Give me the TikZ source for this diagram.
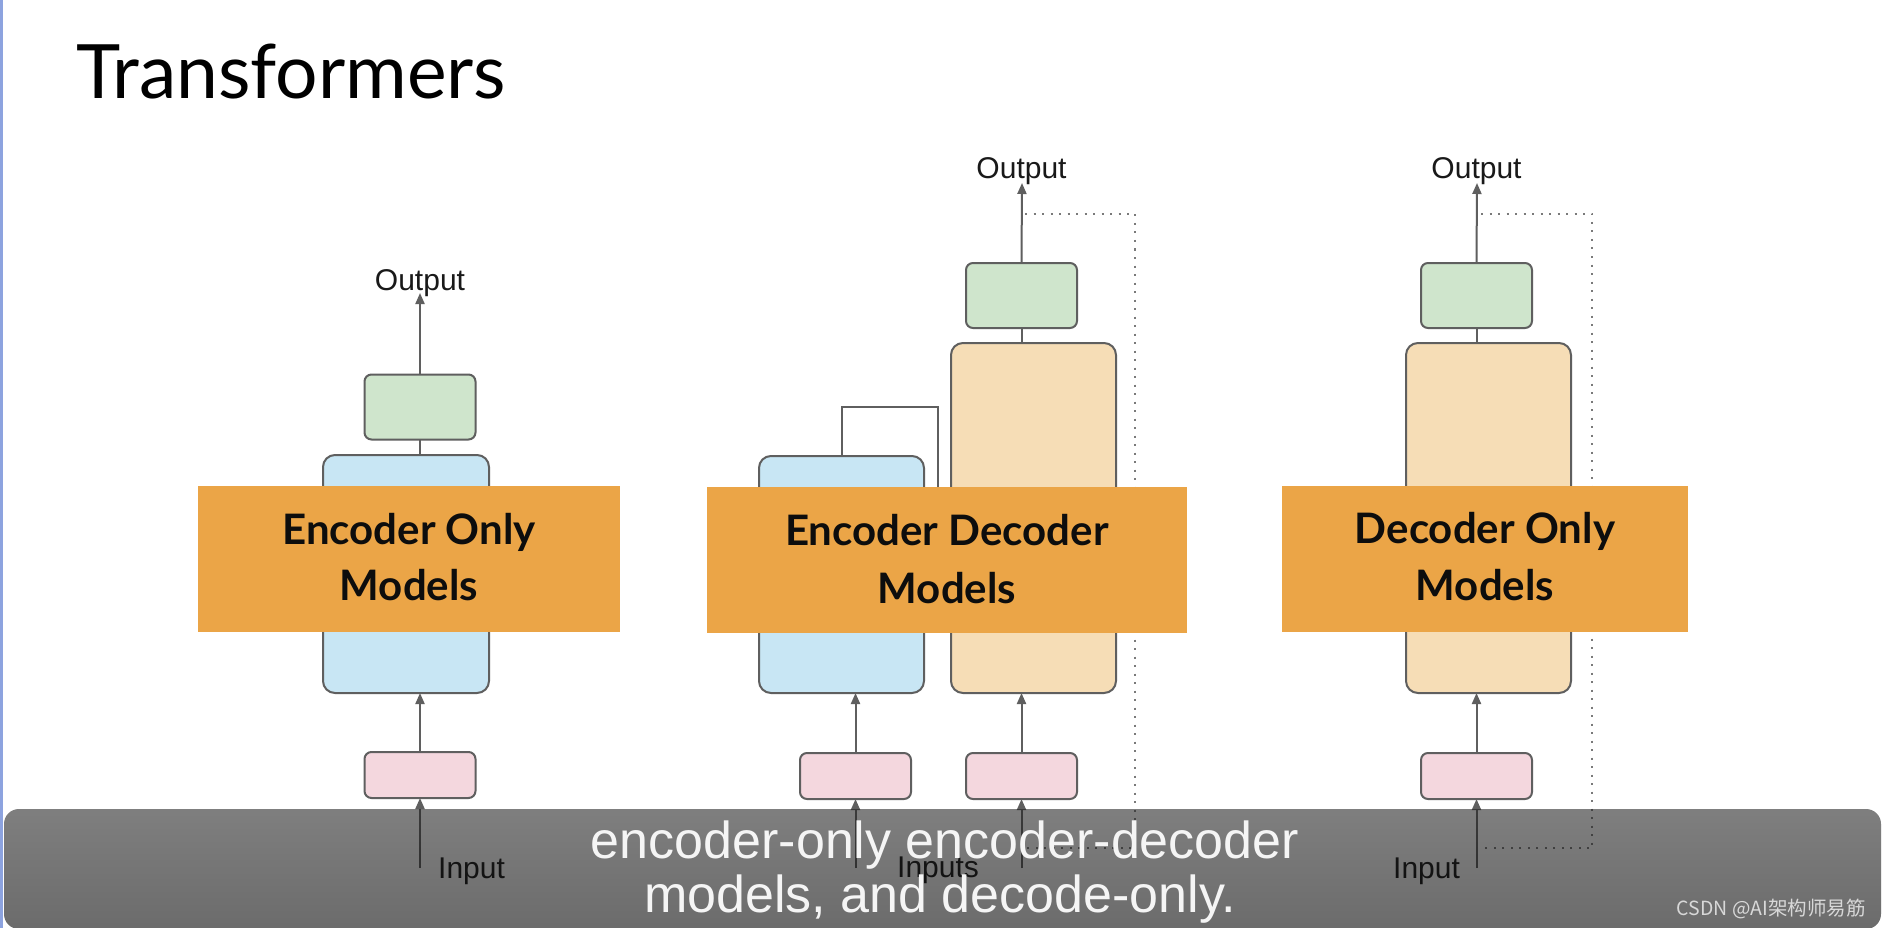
\documentclass[tikz,border=0pt]{standalone}
\usepackage{fontspec}
\setmainfont{Liberation Sans}
\newfontfamily\lato{Lato}
\newfontfamily\cjk{Noto Sans CJK SC}
\usetikzlibrary{arrows.meta}
\definecolor{edgegray}{HTML}{5F5F5F}
\definecolor{bluefill}{HTML}{C8E6F4}
\definecolor{peachfill}{HTML}{F6DDB6}
\definecolor{greenfill}{HTML}{CFE5CC}
\definecolor{pinkfill}{HTML}{F4D7DE}
\definecolor{bandorange}{HTML}{EBA547}
\definecolor{sidebar}{HTML}{8DA3DF}
\definecolor{dotgray}{HTML}{7A7A7A}
\definecolor{wmark}{HTML}{D8D8D8}
\tikzset{
  bigbox/.style={draw=edgegray, line width=2pt, rounded corners=12pt, inner sep=0pt, outer sep=0pt},
  smallbox/.style={draw=edgegray, line width=2pt, rounded corners=7pt, inner sep=0pt, outer sep=0pt, minimum width=111pt, minimum height=46pt},
  greenbox/.style={smallbox, fill=greenfill, minimum height=65pt},
  pinkbox/.style={smallbox, fill=pinkfill},
  bluebox/.style={bigbox, fill=bluefill, minimum width=166pt},
  peachbox/.style={bigbox, fill=peachfill, minimum width=165pt, minimum height=350pt},
  band/.style={fill=bandorange, inner sep=0pt, outer sep=0pt, minimum height=146pt},
  bandtxt/.style={font=\lato\bfseries\fontsize{42}{46}\selectfont, text=black!95, inner sep=0pt},
  lbl/.style={font=\fontsize{30}{32}\selectfont, text=black!90, inner sep=0pt},
  conn/.style={draw=edgegray, line width=2pt},
  arr/.style={conn, -{Triangle[length=11pt,width=9pt]}},
  fb/.style={draw=dotgray, line width=2pt, dash pattern=on 2pt off 6.5pt},
  subtxt/.style={font=\fontsize{52}{54}\selectfont, text=white!96!black, inner sep=0pt},
}
\begin{document}
\begin{tikzpicture}[x=1pt,y=-1pt]
\useasboundingbox (0,0) rectangle (1882,928);
\fill[white] (0,0) rectangle (1882,928);
\fill[sidebar] (0,0) rectangle (3,928);

% title
\node[font=\lato\fontsize{75}{82}\selectfont, anchor=base west, inner sep=0pt] (title) at (76,99) {Transformers};

% ---------- Encoder only ----------
\node[lbl, anchor=base] (out1) at (420,290) {Output};
\coordinate (out1tip) at (420,293);
\node[greenbox] (green1) at (420,407) {};
\node[bluebox, minimum height=238pt] (blue1) at (406,574) {};
\node[pinkbox] (pink1) at (420,775) {};
\coordinate (in1start) at (420,868);
\node[lbl, anchor=base west] (in1) at (438,878) {Input};
\draw[arr] (green1.north) -- (out1tip);
\draw[conn] (green1.south) -- (green1.south |- blue1.north);
\draw[arr] (pink1.north) -- (pink1.north |- blue1.south);
\draw[arr] (in1start) -- (pink1.south);

% ---------- Encoder decoder ----------
\node[lbl, anchor=base] (out2) at (1021.5,179) {Output};
\coordinate (out2tip) at (1022,183);
\node[greenbox] (green2) at (1021.5,295.5) {};
\node[peachbox] (peach2) at (1033.5,518) {};
\node[bluebox, minimum width=165pt, minimum height=237pt] (blue2) at (841.5,574.5) {};
\node[pinkbox] (pink2a) at (855.5,776) {};
\node[pinkbox] (pink2b) at (1021.5,776) {};
\coordinate (in2astart) at (855.5,868);
\coordinate (in2bstart) at (1021.5,868);
\node[lbl, anchor=base west] (in2) at (897,877) {Inputs};
\coordinate (ctop) at (938,407);
\coordinate (cbot) at (938,560);
\draw[conn] (blue2.north) |- (ctop) -- (cbot) -- (cbot -| peach2.west);
\draw[arr] (green2.north) -- (out2tip);
\draw[conn] (green2.south) -- (green2.south |- peach2.north);
\draw[arr] (pink2a.north) -- (pink2a.north |- blue2.south);
\draw[arr] (pink2b.north) -- (pink2b.north |- peach2.south);
\draw[arr] (in2astart) -- (pink2a.south);
\draw[arr] (in2bstart) -- (pink2b.south);
\coordinate (fb2a) at (1025,214);
\coordinate (fb2b) at (1135,214);
\coordinate (fb2c) at (1135,848);
\coordinate (fb2d) at (1025,848);
\draw[fb] (fb2a) -- (fb2b) -- (fb2c) -- (fb2d);

% ---------- Decoder only ----------
\node[lbl, anchor=base] (out3) at (1476.5,179) {Output};
\coordinate (out3tip) at (1477,183);
\node[greenbox] (green3) at (1476.5,295.5) {};
\node[peachbox] (peach3) at (1488.5,518) {};
\node[pinkbox] (pink3) at (1476.5,776) {};
\coordinate (in3start) at (1476.5,868);
\node[lbl, anchor=base west] (in3) at (1393,878) {Input};
\draw[arr] (green3.north) -- (out3tip);
\draw[conn] (green3.south) -- (green3.south |- peach3.north);
\draw[arr] (pink3.north) -- (pink3.north |- peach3.south);
\draw[arr] (in3start) -- (pink3.south);
\coordinate (fb3a) at (1481,214);
\coordinate (fb3b) at (1592,214);
\coordinate (fb3c) at (1592,848);
\coordinate (fb3d) at (1480,848);
\draw[fb] (fb3a) -- (fb3b) -- (fb3c) -- (fb3d);

% ---------- orange bands ----------
\node[band, minimum width=422pt] (band1) at (409,559) {};
\node[bandtxt, anchor=base] (band1a) at (409,544) {Encoder Only};
\node[bandtxt, anchor=base] (band1b) at (409,600) {Models};
\node[band, minimum width=480pt] (band2) at (947,560) {};
\node[bandtxt, anchor=base] (band2a) at (947,545) {Encoder Decoder};
\node[bandtxt, anchor=base] (band2b) at (947,603) {Models};
\node[band, minimum width=406pt] (band3) at (1485,559) {};
\node[bandtxt, anchor=base] (band3a) at (1485,543) {Decoder Only};
\node[bandtxt, anchor=base] (band3b) at (1485,600) {Models};

% ---------- subtitle overlay ----------
\fill[black, opacity=0.5, rounded corners=15pt] (4,809) rectangle (1881,929);
\shade[top color=black!50, bottom color=black, opacity=0.15, rounded corners=15pt] (4,809) rectangle (1881,929);
\node[subtxt, anchor=base] (sub1) at (945,858) {encoder-only encoder-decoder};
\node[subtxt, anchor=base] (sub2) at (940,912) {models, and decode-only.};
\node[font=\cjk\fontsize{19.5}{21}\selectfont, text=wmark, anchor=base east, inner sep=0pt] (wm) at (1866,915) {CSDN @AI架构师易筋};
\end{tikzpicture}
\end{document}
